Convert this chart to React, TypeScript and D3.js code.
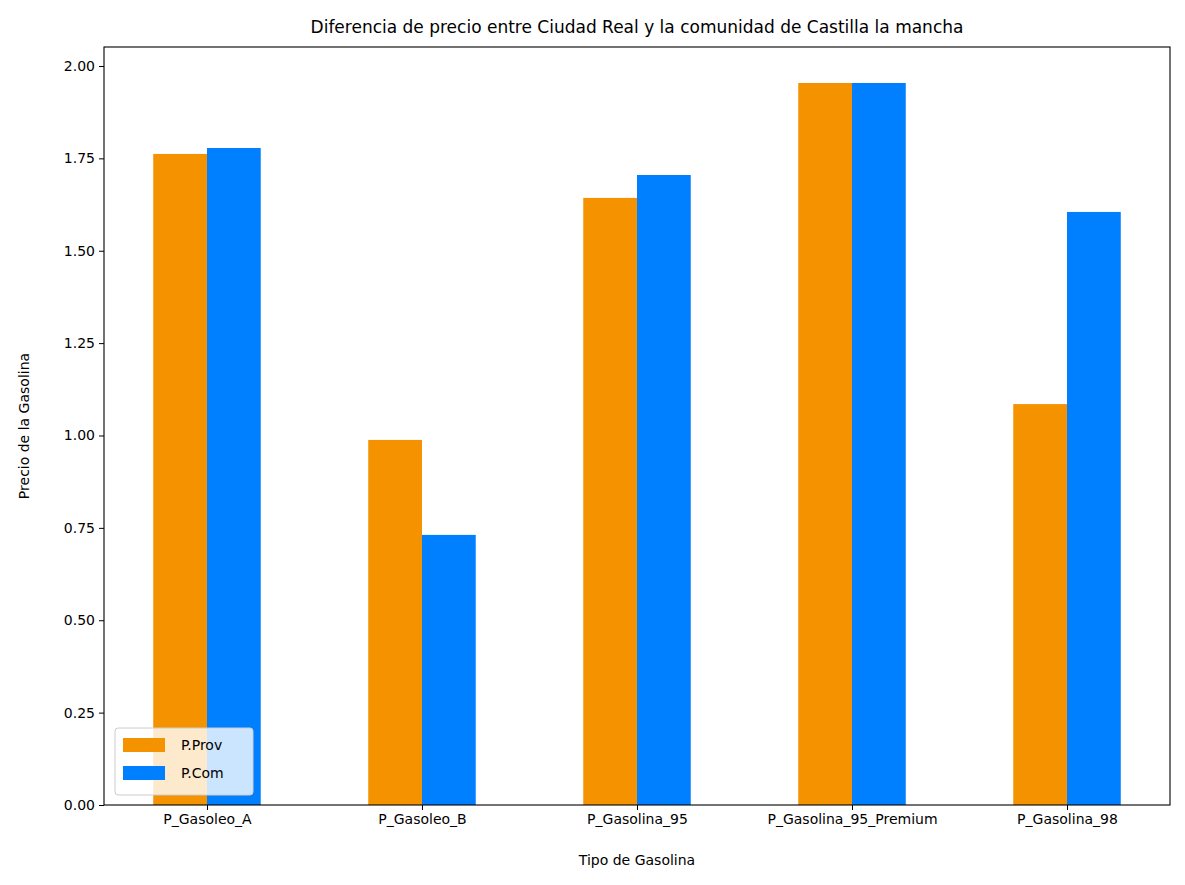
import React, { useEffect, useRef } from "react";
import * as d3 from "d3";

const categories = ["P_Gasoleo_A", "P_Gasoleo_B", "P_Gasolina_95", "P_Gasolina_95_Premium", "P_Gasolina_98"];
const provValues = [1.762, 0.988, 1.643, 1.954, 1.085];
const comValues = [1.778, 0.731, 1.705, 1.954, 1.605];
const yTicks = [0, 0.25, 0.5, 0.75, 1.0, 1.25, 1.5, 1.75, 2.0];
const seriesNames = ["P.Prov", "P.Com"];
const colors = ["#F59200", "#007FFF"];

const App: React.FC = () => {
  const ref = useRef<SVGSVGElement | null>(null);

  useEffect(() => {
    if (!ref.current) return;
    const svg = d3.select(ref.current);
    svg.selectAll("*").remove();

    const margin = { top: 47, right: 15, bottom: 80, left: 104 };
    const width = 1185, height = 885;
    const w = width - margin.left - margin.right;
    const h = height - margin.top - margin.bottom;
    const font = "DejaVu Sans, sans-serif";

    const x = d3.scaleLinear().domain([-0.479, 4.479]).range([0, w]);
    const y = d3.scaleLinear().domain([0, 2.0514]).range([h, 0]);
    const bw = x(0.25) - x(0);

    const g = svg.append("g").attr("transform", `translate(${margin.left},${margin.top})`);

    [provValues, comValues].forEach((vals, s) => {
      g.selectAll(`.bar-${s}`)
        .data(vals)
        .join("rect")
        .attr("x", (_, i) => x(i) - bw + s * bw)
        .attr("y", (d) => y(d))
        .attr("width", bw)
        .attr("height", (d) => h - y(d))
        .attr("fill", colors[s]);
    });

    const xAxis = g.append("g").attr("transform", `translate(0,${h})`)
      .call(d3.axisBottom(x).tickValues(d3.range(categories.length)).tickFormat((d) => categories[d as number]).tickSize(5).tickPadding(4));
    const yAxis = g.append("g")
      .call(d3.axisLeft(y).tickValues(yTicks).tickFormat(d3.format(".2f")).tickSize(5).tickPadding(4));
    [xAxis, yAxis].forEach((a) => {
      a.select(".domain").remove();
      a.selectAll("text").attr("font-family", font).attr("font-size", 14).attr("fill", "#000");
      a.selectAll("line").attr("stroke", "#000");
    });

    g.append("rect").attr("width", w).attr("height", h).attr("fill", "none").attr("stroke", "#000").attr("stroke-width", 1.1);

    svg.append("text").attr("x", margin.left + w / 2).attr("y", 33).attr("text-anchor", "middle")
      .attr("font-family", font).attr("font-size", 17).text("Diferencia de precio entre Ciudad Real y la comunidad de Castilla la mancha");
    svg.append("text").attr("x", margin.left + w / 2).attr("y", 865).attr("text-anchor", "middle")
      .attr("font-family", font).attr("font-size", 14).text("Tipo de Gasolina");
    svg.append("text").attr("transform", `translate(29,${margin.top + h / 2}) rotate(-90)`).attr("text-anchor", "middle")
      .attr("font-family", font).attr("font-size", 14).text("Precio de la Gasolina");

    const legend = g.append("g").attr("transform", `translate(11,${h - 77})`);
    legend.append("rect").attr("width", 138).attr("height", 67).attr("rx", 3)
      .attr("fill", "rgba(255,255,255,0.8)").attr("stroke", "#ccc");
    seriesNames.forEach((n, i) => {
      const row = legend.append("g").attr("transform", `translate(8,${10 + i * 28})`);
      row.append("rect").attr("width", 42).attr("height", 14).attr("fill", colors[i]);
      row.append("text").attr("x", 58).attr("y", 12).attr("font-family", font).attr("font-size", 14).text(n);
    });
  }, []);

  return <svg ref={ref} width={1185} height={885} style={{ display: "block", margin: -8 }}></svg>;
};

export default App;
